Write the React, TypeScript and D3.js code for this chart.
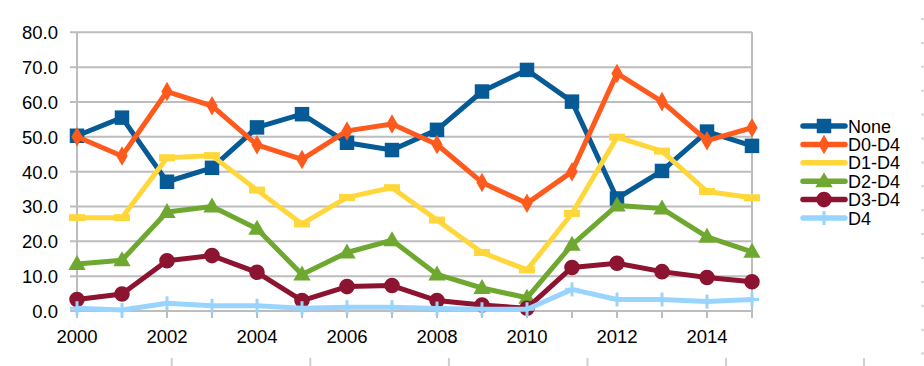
import React from 'react';
import { scaleLinear, line, symbol, symbolSquare, symbolDiamond, symbolTriangle, symbolCircle, range } from 'd3';

const years = range(2000, 2016);
const yTicks = [0, 10, 20, 30, 40, 50, 60, 70, 80];
const xTickLabels = [2000, 2002, 2004, 2006, 2008, 2010, 2012, 2014];

const seriesNames = ['None', 'D0-D4', 'D1-D4', 'D2-D4', 'D3-D4', 'D4'];
const seriesColors = ['#065a96', '#ff5a1e', '#ffd73a', '#6fa830', '#8c1430', '#99d4ff'];
const seriesMarkers = ['square', 'diamond', 'dash', 'triangle', 'circle', 'plus'];

const none = [50.3, 55.5, 37.1, 41.1, 52.7, 56.5, 48.3, 46.2, 52.0, 63.0, 69.2, 60.1, 32.3, 40.2, 51.5, 47.4];
const d0d4 = [50.0, 44.5, 63.0, 58.9, 47.7, 43.5, 51.7, 53.7, 47.8, 36.9, 30.9, 40.0, 68.2, 60.1, 48.9, 52.6];
const d1d4 = [26.8, 26.8, 44.0, 44.6, 34.7, 25.0, 32.6, 35.4, 26.1, 16.8, 11.8, 28.0, 49.9, 45.9, 34.3, 32.5];
const d2d4 = [13.5, 14.6, 28.4, 30.0, 23.6, 10.5, 16.8, 20.3, 10.5, 6.6, 3.8, 19.0, 30.3, 29.4, 21.3, 17.0];
const d3d4 = [3.3, 4.9, 14.4, 15.9, 11.1, 3.0, 7.0, 7.3, 3.0, 1.7, 0.8, 12.5, 13.7, 11.3, 9.6, 8.4];
const d4 = [0.8, 0.3, 2.2, 1.5, 1.5, 0.8, 1.1, 1.1, 0.7, 0.5, 0.5, 6.2, 3.3, 3.3, 2.7, 3.3];

const seriesValues = [none, d0d4, d1d4, d2d4, d3d4, d4];

const W = 924;
const H = 366;
const font = '"Liberation Sans", Arial, Helvetica, sans-serif';
const grid = '#bdbdbd';

const x = scaleLinear().domain([2000, 2015]).range([77, 752]);
const y = scaleLinear().domain([0, 80]).range([311, 32.3]);

function Marker({ kind, cx, cy, color }: { kind: string; cx: number; cy: number; color: string }) {
  const t = `translate(${cx},${cy})`;
  if (kind === 'square') return <path transform={t} d={symbol(symbolSquare, 210)()!} fill={color} />;
  if (kind === 'diamond') return <path transform={t} d={symbol(symbolDiamond, 110)()!} fill={color} />;
  if (kind === 'triangle') return <path transform={`translate(${cx},${cy + 1})`} d={symbol(symbolTriangle, 130)()!} fill={color} />;
  if (kind === 'circle') return <path transform={t} d={symbol(symbolCircle, 190)()!} fill={color} />;
  if (kind === 'dash') return <rect x={cx - 8} y={cy - 3.5} width={16} height={7} fill={color} />;
  return (
    <g fill={color}>
      <rect x={cx - 1.5} y={cy - 7} width={3} height={14} />
      <rect x={cx - 7} y={cy - 1.5} width={14} height={3} />
    </g>
  );
}

export default function App() {
  const lineGen = line<number>()
    .x((_, i) => x(years[i]))
    .y((v) => y(v));

  const legendX = 803;
  const legendY = range(6).map((i) => 126 + i * 18.4);

  return (
    <svg width={W} height={H} style={{ position: 'absolute', left: 0, top: 0, background: '#fff' }} fontFamily={font}>
      {/* gridlines */}
      {yTicks.map((t) => (
        <line key={t} x1={70} x2={752} y1={y(t)} y2={y(t)} stroke={grid} strokeWidth={2} />
      ))}
      <line x1={77} x2={77} y1={y(80)} y2={y(0) + 7} stroke={grid} strokeWidth={2} />
      <line x1={752} x2={752} y1={y(80)} y2={y(0) + 7} stroke={grid} strokeWidth={2} />
      {years.map((yr) => (
        <line key={yr} x1={x(yr)} x2={x(yr)} y1={y(0)} y2={y(0) + 7} stroke={grid} strokeWidth={2} />
      ))}
      {/* y labels */}
      {yTicks.map((t) => (
        <text key={t} x={58} y={y(t) + 7} textAnchor="end" fontSize={18.5} fill="#000">
          {t.toFixed(1)}
        </text>
      ))}
      {/* x labels */}
      {xTickLabels.map((t) => (
        <text key={t} x={x(t)} y={343} textAnchor="middle" fontSize={18.5} fill="#000">
          {t}
        </text>
      ))}
      {/* series */}
      {seriesValues.map((vals, si) => (
        <g key={seriesNames[si]}>
          <path d={lineGen(vals)!} fill="none" stroke={seriesColors[si]} strokeWidth={5} strokeLinejoin="round" strokeLinecap="round" />
          {vals.map((v, i) => (
            <Marker key={i} kind={seriesMarkers[si]} cx={x(years[i])} cy={y(v)} color={seriesColors[si]} />
          ))}
        </g>
      ))}
      {/* legend */}
      {seriesNames.map((n, i) => (
        <g key={n}>
          <line x1={legendX} x2={legendX + 42} y1={legendY[i]} y2={legendY[i]} stroke={seriesColors[i]} strokeWidth={5.5} strokeLinecap="round" />
          {seriesMarkers[i] !== 'dash' && (
            <Marker kind={seriesMarkers[i]} cx={legendX + 21} cy={legendY[i]} color={seriesColors[i]} />
          )}
          <text x={848} y={legendY[i] + 6.5} fontSize={18} fill="#000">
            {n}
          </text>
        </g>
      ))}
      {/* right edge dotted line */}
      <line x1={922.5} x2={922.5} y1={18} y2={366} stroke="#c8c8c8" strokeWidth={2} strokeDasharray="2 21.9" />
      {/* ticks from the chart below */}
      {range(5).map((i) => (
        <line key={i} x1={171.7 + i * 138.6} x2={171.7 + i * 138.6} y1={358} y2={366} stroke="#cfcfcf" strokeWidth={2} />
      ))}
      <line x1={864} x2={864} y1={358} y2={366} stroke="#cfcfcf" strokeWidth={2} />
    </svg>
  );
}
